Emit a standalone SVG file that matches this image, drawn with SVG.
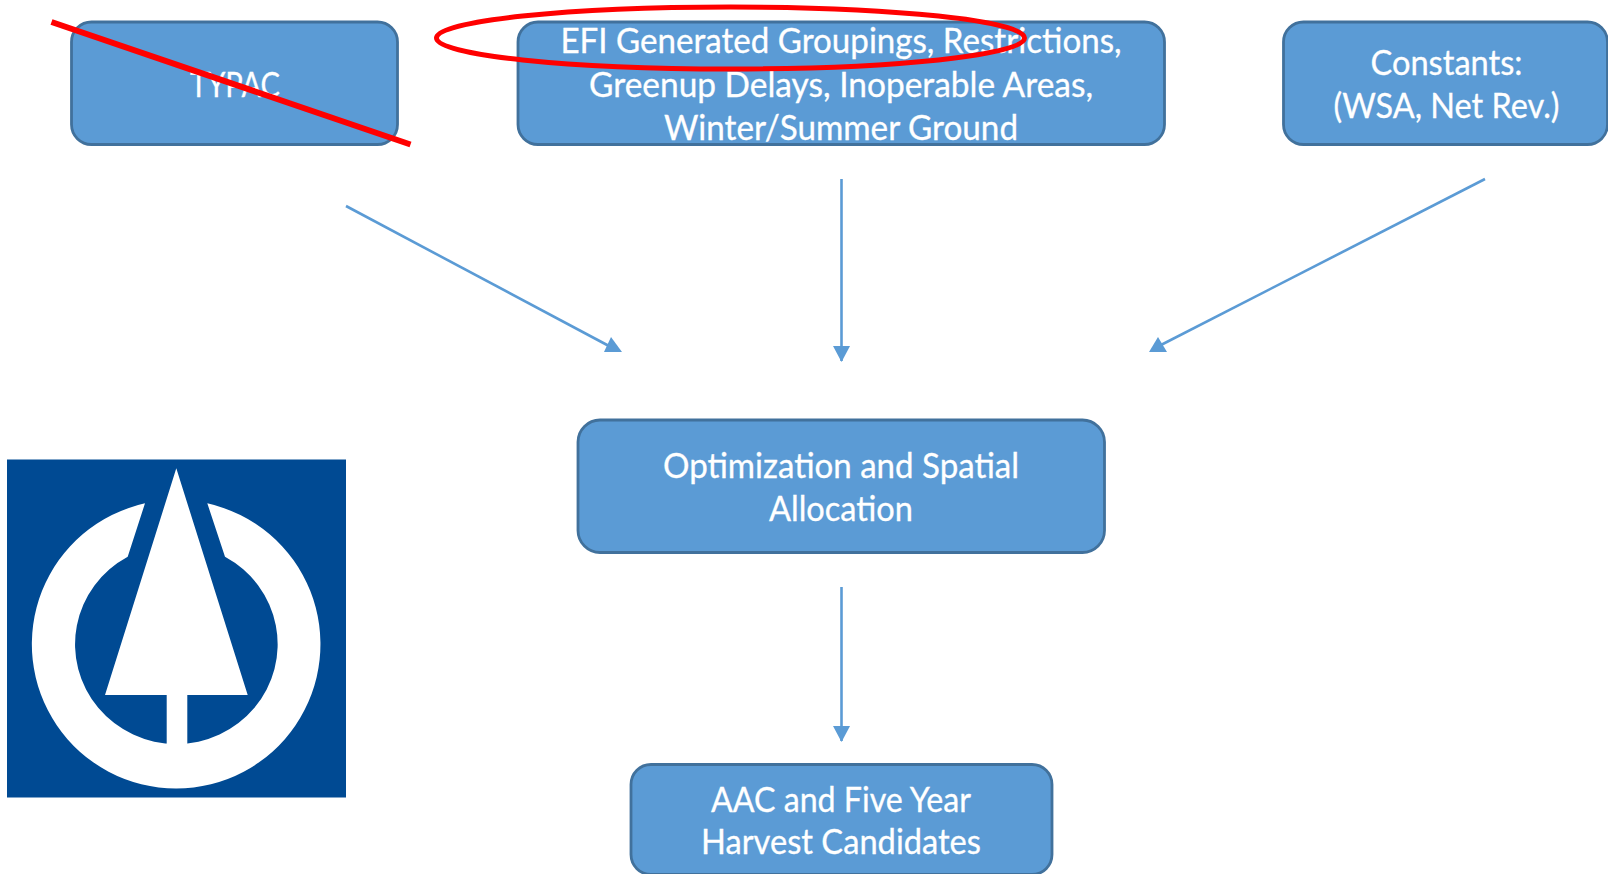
<svg xmlns="http://www.w3.org/2000/svg" width="1608" height="874" viewBox="0 0 1608 874">
<style>
.box{fill:#5B9BD5;stroke:#41719C;stroke-width:2.8}
.lbl{font-family:"Lato","Open Sans","Liberation Sans",sans-serif;font-size:34px;fill:#fff;text-anchor:middle;stroke:#fff;stroke-width:0.3}
.conn{stroke:#5B9BD5;stroke-width:2.6;fill:none}
.head{fill:#5B9BD5}
.red{stroke:#FF0000;fill:none}
.logo-w{fill:#fff}
</style>
<defs>
<marker id="arrow" markerUnits="userSpaceOnUse" markerWidth="16" markerHeight="17" refX="15" refY="8.5" orient="auto" viewBox="0 0 16 17"><path d="M0 0L16 8.5L0 17Z" fill="#5B9BD5"/></marker>
</defs>
<rect width="1608" height="874" fill="#fff"/>
<g id="connectors">
<line class="conn" x1="346" y1="206" x2="609" y2="346"/>
<polygon class="head" points="604,352 622,352 611,337"/>
<line class="conn" x1="841.5" y1="179" x2="841.5" y2="361" marker-end="url(#arrow)"/>
<line class="conn" x1="1485" y1="179" x2="1159" y2="346"/>
<polygon class="head" points="1149,352 1167,352 1158,337"/>
<line class="conn" x1="841.5" y1="587" x2="841.5" y2="741" marker-end="url(#arrow)"/>
</g>
<g id="node-typac">
<rect class="box" x="71.5" y="22" width="326" height="122.5" rx="20"/>
<text class="lbl" x="235" y="96.7" textLength="90" lengthAdjust="spacingAndGlyphs">TYPAC</text>
</g>
<g id="node-efi">
<rect class="box" x="518" y="22" width="646.5" height="122.5" rx="20"/>
<text class="lbl" x="841" y="52.7" textLength="561" lengthAdjust="spacingAndGlyphs">EFI Generated Groupings, Restrictions,</text>
<text class="lbl" x="841" y="96.7" textLength="504" lengthAdjust="spacingAndGlyphs">Greenup Delays, Inoperable Areas,</text>
<text class="lbl" x="841" y="139.5" textLength="354" lengthAdjust="spacingAndGlyphs">Winter/Summer Ground</text>
</g>
<g id="node-constants">
<rect class="box" x="1283.5" y="22" width="324" height="122.5" rx="20"/>
<text class="lbl" x="1446.5" y="74.7" textLength="152" lengthAdjust="spacingAndGlyphs">Constants:</text>
<text class="lbl" x="1446.5" y="117.7" textLength="226" lengthAdjust="spacingAndGlyphs">(WSA, Net Rev.)</text>
</g>
<g id="node-optimization">
<rect class="box" x="578" y="420" width="526.5" height="132.5" rx="22"/>
<text class="lbl" x="841" y="477.7" textLength="356" lengthAdjust="spacingAndGlyphs">Optimization and Spatial</text>
<text class="lbl" x="841" y="520.7" textLength="144" lengthAdjust="spacingAndGlyphs">Allocation</text>
</g>
<g id="node-aac">
<rect class="box" x="631" y="764.5" width="421" height="110" rx="20"/>
<text class="lbl" x="841" y="811.5" textLength="260" lengthAdjust="spacingAndGlyphs">AAC and Five Year</text>
<text class="lbl" x="841" y="853.7" textLength="280" lengthAdjust="spacingAndGlyphs">Harvest Candidates</text>
</g>
<g id="logo">
<rect x="7" y="459.5" width="339" height="338" fill="#004A93"/>
<path class="logo-w" d="M145 503.3A144.3 144.3 0 1 0 207.3 503.3L225 556.7A101.3 99.8 0 1 1 127.7 556.7Z"/>
<polygon class="logo-w" points="176.3,468.3 247.7,695 187.3,695 187.3,755 166.7,755 166.7,695 105,695"/>
</g>
<g id="annotations">
<line class="red" stroke-width="6" x1="51.5" y1="22" x2="410.5" y2="144.5"/>
<ellipse class="red" stroke-width="5" cx="730.5" cy="38" rx="294" ry="31"/>
</g>
</svg>
